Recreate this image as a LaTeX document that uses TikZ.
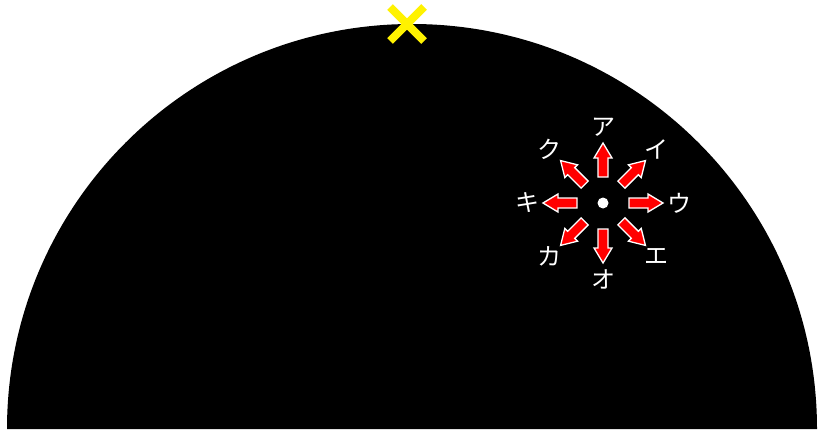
\documentclass[tikz,border=0pt]{standalone}
\usepackage{fontspec}
\newfontfamily\jpfont{Noto Sans CJK JP}
\usetikzlibrary{positioning}

\begin{document}
\begin{tikzpicture}[x=1pt, y=1pt,
  kana/.style={text=white, font=\jpfont\fontsize{24}{24}\selectfont, inner sep=0pt},
  dirarrow/.style={fill=red, draw=white, line width=1.3pt, line join=miter},
  crossline/.style={draw=yellow, line width=8pt}
]
\useasboundingbox (0,0) rectangle (818,429);
\fill[white] (0,0) rectangle (818,429);

% dome
\fill[black] (7,0) arc (180:0:405) -- cycle;

% yellow cross at the top
\coordinate (top) at (407,405);
\draw[crossline] ([shift={(-17,-17)}]top) -- ([shift={(17,17)}]top);
\draw[crossline] ([shift={(-17,17)}]top) -- ([shift={(17,-17)}]top);

% star of arrows
\coordinate (c) at (603,226);
\fill[white] (c) circle (5.5);
\foreach \ang/\lab [count=\i] in {90/ア,45/イ,0/ウ,-45/エ,-90/オ,-135/カ,180/キ,135/ク} {
  \begin{scope}[shift={(c)}, rotate=\ang]
    \draw[dirarrow] (26,-5) -- (45,-5) -- (45,-9) -- (60,0)
      -- (45,9) -- (45,5) -- (26,5) -- cycle;
  \end{scope}
  \node[kana] (k\i) at ([shift={(\ang:76)}]c) {\lab};
}

\end{tikzpicture}
\end{document}
